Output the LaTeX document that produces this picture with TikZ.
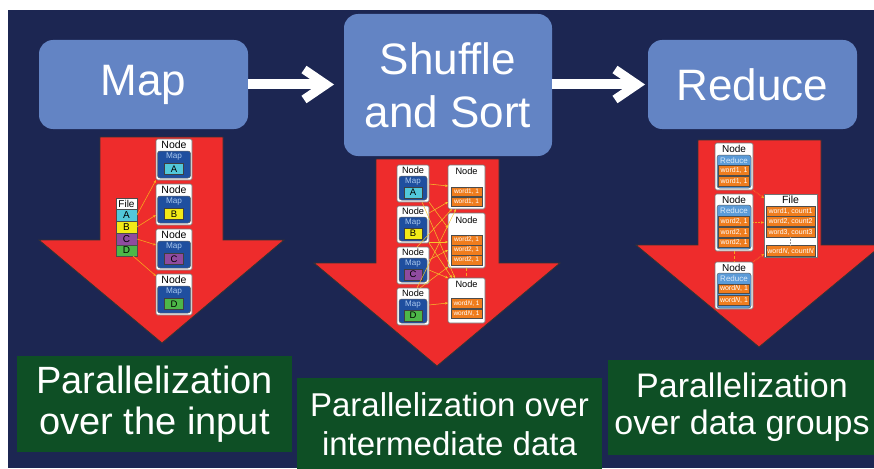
\documentclass[tikz,border=0pt]{standalone}
\usepackage{fontspec}
\setmainfont{Liberation Sans}
\usetikzlibrary{calc,arrows.meta}
\definecolor{bgnavy}{HTML}{1C2652}
\definecolor{topblue}{HTML}{6384C4}
\definecolor{arrred}{HTML}{EE2C2C}
\definecolor{grn}{HTML}{0E4F25}
\definecolor{mapblue}{HTML}{1F4F9F}
\definecolor{maptext}{HTML}{A9C8EE}
\definecolor{redblue}{HTML}{5B9BD8}
\definecolor{redtext}{HTML}{DCEBFA}
\definecolor{wordorange}{HTML}{EF7D1E}
\definecolor{lnorange}{HTML}{F7A51E}
\definecolor{lnyellow}{HTML}{F6C62A}
\definecolor{cA}{HTML}{52C8DA}
\definecolor{cB}{HTML}{F2EA17}
\definecolor{cC}{HTML}{8F4B9F}
\definecolor{cD}{HTML}{4DB748}
\newcommand{\fsz}[1]{\fontsize{#1}{#1}\selectfont}
\tikzset{
  box/.style={anchor=north west, inner sep=0pt, outer sep=0pt},
  topbox/.style={box, fill=topblue, rounded corners=14pt, text=white, align=center},
  greenbox/.style={box, fill=grn, text=white, align=center},
  bigarrow/.style={white, line width=10pt, -{Straight Barb[length=22pt,width=30pt,line width=9pt]}},
  redarrow/.style={fill=arrred, draw=black!80, line width=0.8pt, line join=miter},
  nodebox/.style={box, fill=white, draw=black!55, line width=0.6pt, rounded corners=1.5pt},
  mapbox/.style={box, fill=mapblue, draw=black!60, line width=0.5pt, rounded corners=2.5pt},
  redbox/.style={box, fill=redblue, draw=black!60, line width=0.5pt, rounded corners=2.5pt},
  sqbox/.style={box, draw=black!75, line width=0.5pt, text=black, font=\fsz{9.5}},
  wordbox/.style={box, fill=wordorange, draw=black!70, line width=0.5pt, text=white, font=\fsz{6.5}},
  filebox/.style={box, draw=black!70, line width=0.5pt, text=black, font=\fsz{10}},
  nodetxt/.style={inner sep=0pt, text=black, font=\fsz{10}},
  maptxt/.style={inner sep=0pt, text=maptext, font=\fsz{8.2}},
  redtxt/.style={inner sep=0pt, text=redtext, font=\fsz{8}},
  oarr/.style={lnorange, line width=0.6pt, -{Stealth[length=3pt,width=2.5pt]}},
  yarr/.style={lnyellow, line width=0.5pt, -{Stealth[length=3pt,width=2.5pt]}},
  darr/.style={lnorange, line width=0.6pt, densely dotted, -{Stealth[length=3pt,width=2.5pt]}},
}
\begin{document}
\begin{tikzpicture}[x=1pt,y=-1pt]
\useasboundingbox (0,0) rectangle (874,468);
\clip (0,0) rectangle (874,468);
\fill[white] (0,0) rectangle (874,468);
\fill[bgnavy] (8,10) rectangle (874,468);

% top process boxes
\node[topbox, minimum width=209pt, minimum height=89pt, font=\fsz{44}] (map) at (39,40) {Map};
\node[topbox, minimum width=208pt, minimum height=142pt, font=\fontsize{44}{53}\selectfont] (shuf) at (344,14) {Shuffle\\and Sort};
\node[topbox, minimum width=209pt, minimum height=89pt, font=\fsz{44}] (red) at (648,40) {Reduce};
\draw[bigarrow, shorten >=10pt] (map.east) -- (map.east -| shuf.west);
\draw[bigarrow, shorten >=3pt] (map.east -| shuf.east) -- (map.east -| red.west);

% red arrows
\draw[redarrow] (100,137) -- (223,137) -- (223,240) -- (284,240) -- (162,343) -- (39,240) -- (100,240) -- cycle;
\draw[redarrow] (376,159) -- (499,159) -- (499,263) -- (560,263) -- (437,366) -- (314,263) -- (376,263) -- cycle;
\draw[redarrow] (698,140) -- (821,140) -- (821,245) -- (882,245) -- (759,347) -- (636,245) -- (698,245) -- cycle;

% green boxes
\node[greenbox, minimum width=275pt, minimum height=96pt, font=\fontsize{38}{41}\selectfont] (g1) at (17,356) {Parallelization\\over the input};
\node[greenbox, minimum width=305pt, minimum height=92pt, font=\fontsize{33}{39}\selectfont] (g2) at (297,378) {Parallelization over\\intermediate data};
\node[greenbox, minimum width=268pt, minimum height=95pt, font=\fontsize{34}{37}\selectfont] (g3) at (608,360) {Parallelization\\over data groups};

% ---------- left diagram: Map ----------
\node[filebox, fill=white, minimum width=21pt, minimum height=11pt] (fF) at (116,198) {File};
\node[filebox, fill=cA, minimum width=21pt, minimum height=12pt] (fA) at (116,209) {A};
\node[filebox, fill=cB, minimum width=21pt, minimum height=12pt] (fB) at (116,221) {B};
\node[filebox, fill=cC, minimum width=21pt, minimum height=12pt] (fC) at (116,233) {C};
\node[filebox, fill=cD, minimum width=21pt, minimum height=11pt] (fD) at (116,245) {D};
\foreach \i/\t/\L/\c in {1/139/A/cA, 2/184/B/cB, 3/229/C/cC, 4/274/D/cD}{
  \node[nodebox, minimum width=36pt, minimum height=41pt] (ln\i) at (156,\t) {};
  \node[nodetxt, font=\fsz{10.5}] (lnt\i) at (174,{\t+5.5}) {Node};
  \node[mapbox, minimum width=33pt, minimum height=27pt] (lm\i) at (157.5,{\t+12}) {};
  \node[maptxt] (lmt\i) at (174,{\t+18}) {Map};
  \node[sqbox, fill=\c, minimum width=19pt, minimum height=11pt] (ls\i) at (164.5,{\t+24.5}) {\L};
}
\draw[oarr] (fA.east) -- (ln1.south west);
\draw[oarr] (fB.east) -- ($(ln2.north west)+(0,31)$);
\draw[oarr] (fC.east) -- ($(ln3.north west)+(0,16)$);
\draw[oarr] ($(fD.south east)+(-4,0)$) -- ($(ln4.north west)+(0,2)$);

% ---------- middle diagram: Shuffle ----------
\foreach \i/\t/\L/\c in {1/165/A/cA, 2/206/B/cB, 3/247/C/cC, 4/288/D/cD}{
  \node[nodebox, minimum width=32pt, minimum height=37pt] (mm\i) at (397,\t) {};
  \node[nodetxt, font=\fsz{9.2}] (mmt\i) at (413,{\t+5.5}) {Node};
  \node[mapbox, minimum width=28pt, minimum height=24pt] (mmb\i) at (399,{\t+11}) {};
  \node[maptxt, font=\fsz{8}] (mml\i) at (413,{\t+16.5}) {Map};
  \node[sqbox, fill=\c, minimum width=18pt, minimum height=11pt] (ms\i) at (404,{\t+22}) {\L};
}
\node[nodebox, minimum width=37pt, minimum height=44pt] (mr1) at (448,165) {};
\node[nodetxt, font=\fsz{9.2}] (mrt1) at (466.5,171.5) {Node};
\node[wordbox, minimum width=31pt, minimum height=9.5pt] (w11) at (451,187) {word1, 1};
\node[wordbox, minimum width=31pt, minimum height=9.5pt] (w12) at (451,197) {word1, 1};
\node[nodebox, minimum width=37pt, minimum height=55pt] (mr2) at (448,213) {};
\node[nodetxt, font=\fsz{9.2}] (mrt2) at (466.5,220) {Node};
\node[wordbox, minimum width=31pt, minimum height=10pt] (w21) at (451,235) {word2, 1};
\node[wordbox, minimum width=31pt, minimum height=10pt] (w22) at (451,245) {word2, 1};
\node[wordbox, minimum width=31pt, minimum height=10pt] (w23) at (451,255) {word2, 1};
\node[nodebox, minimum width=37pt, minimum height=45pt] (mr3) at (448,278) {};
\node[nodetxt, font=\fsz{9.2}] (mrt3) at (466.5,284) {Node};
\node[wordbox, minimum width=31pt, minimum height=9.5pt] (w31) at (451,298.5) {word\textit{N}, 1};
\node[wordbox, minimum width=31pt, minimum height=9.5pt] (w32) at (451,309) {word\textit{N}, 1};
\draw[lnorange, line width=0.6pt, densely dashed] (mr2.south) -- (mr3.north);

\draw[yarr] ($(mm1.north east)+(0,19)$) -- ($(mr1.north west)+(0,21)$);
\draw[yarr] (mm1.south east) -- ($(mr2.north west)+(0,15)$);
\draw[yarr] ($(mm1.south east)+(-7,0)$) -- ($(mr3.north west)+(7,0)$);
\draw[yarr] ($(mm2.north east)+(0,7)$) -- ($(mr1.north west)+(0,37)$);
\draw[yarr] ($(mm2.north east)+(0,36)$) -- ($(mr2.north west)+(0,29)$);
\draw[yarr] (mm2.south east) -- ($(mr3.north west)+(4,0)$);
\draw[yarr] ($(mm3.north west)+(20,0)$) -- ($(mr1.south west)+(4,0)$);
\draw[yarr] ($(mm3.north east)+(0,13)$) -- ($(mr2.north west)+(0,37)$);
\draw[yarr] ($(mm3.north east)+(0,23)$) -- (mr3.north west);
\draw[yarr] ($(mm4.north west)+(20,0)$) -- ($(mr1.south west)+(8,0)$);
\draw[yarr] ($(mm4.north west)+(23,0)$) -- ($(mr2.south west)+(0,-1)$);
\draw[yarr] ($(mm4.north east)+(0,17)$) -- ($(mr3.north west)+(0,25)$);

% ---------- right diagram: Reduce ----------
\node[nodebox, minimum width=38pt, minimum height=47pt] (rn1) at (715,143) {};
\node[nodetxt] (rnt1) at (734,148.5) {Node};
\node[redbox, minimum width=34pt, minimum height=33pt] (rb1) at (717,155) {};
\node[redtxt] (rl1) at (734,160.5) {Reduce};
\node[wordbox, font=\fsz{7}, minimum width=31pt, minimum height=9.5pt] (r11) at (718.5,165.5) {word1, 1};
\node[wordbox, font=\fsz{7}, minimum width=31pt, minimum height=9.5pt] (r12) at (718.5,176.5) {word1, 1};
\node[nodebox, minimum width=38pt, minimum height=57pt] (rn2) at (715,194) {};
\node[nodetxt] (rnt2) at (734,200) {Node};
\node[redbox, minimum width=34pt, minimum height=44pt] (rb2) at (717,205) {};
\node[redtxt] (rl2) at (734,211) {Reduce};
\node[wordbox, font=\fsz{7}, minimum width=31pt, minimum height=9.5pt] (r21) at (718.5,216.5) {word2, 1};
\node[wordbox, font=\fsz{7}, minimum width=31pt, minimum height=9.5pt] (r22) at (718.5,227.5) {word2, 1};
\node[wordbox, font=\fsz{7}, minimum width=31pt, minimum height=9.5pt] (r23) at (718.5,238) {word2, 1};
\node[nodebox, minimum width=38pt, minimum height=47pt] (rn3) at (715,262) {};
\node[nodetxt] (rnt3) at (734,267.5) {Node};
\node[redbox, minimum width=34pt, minimum height=35pt] (rb3) at (717,273) {};
\node[redtxt] (rl3) at (734,278.5) {Reduce};
\node[wordbox, font=\fsz{7}, minimum width=31pt, minimum height=9.5pt] (r31) at (718.5,284) {word\textit{N}, 1};
\node[wordbox, font=\fsz{7}, minimum width=31pt, minimum height=9.5pt] (r32) at (718.5,295.5) {word\textit{N}, 1};
\draw[lnorange, line width=0.6pt, densely dashed] (rn2.south) -- (rn3.north);

\node[nodebox, minimum width=53pt, minimum height=63pt, rounded corners=0pt] (fl) at (764,194) {};
\node[nodetxt, font=\fsz{10.5}] (flt) at (790.5,200) {File};
\node[wordbox, font=\fsz{7}, minimum width=49pt, minimum height=10pt] (fw1) at (766,206) {word1, count1};
\node[wordbox, font=\fsz{7}, minimum width=49pt, minimum height=10pt] (fw2) at (766,216.5) {word2, count2};
\node[wordbox, font=\fsz{7}, minimum width=49pt, minimum height=10pt] (fw3) at (766,227) {word3, count3};
\node[wordbox, font=\fsz{7}, minimum width=49pt, minimum height=11pt] (fwn) at (766,245.5) {word\textit{N}, count\textit{N}};
\draw[black!40, line width=0.5pt, densely dotted] (fw3.south) -- (fwn.north);

\draw[darr] (rn1.south east) -- ($(fl.north west)+(0,4)$);
\draw[darr] (rn2.east) -- (rn2.east -| fl.west);
\draw[darr] (rn3.north east) -- ($(fl.south west)+(0,-3)$);
\end{tikzpicture}
\end{document}
